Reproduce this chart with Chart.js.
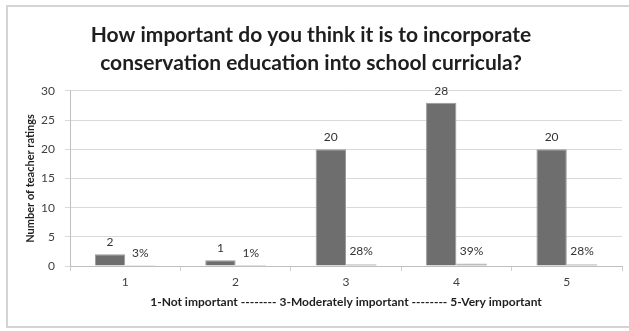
<!DOCTYPE html>
<html>
<head>
<meta charset="utf-8">
<script src="https://cdn.jsdelivr.net/npm/chart.js@4/dist/chart.umd.min.js"></script>
<style>
  html, body { margin: 0; padding: 0; background: #ffffff; }
  #wrap { position: relative; width: 629px; height: 331px; }
</style>
</head>
<body>
<div id="wrap"><canvas id="c" width="629" height="331"></canvas></div>
<script>
const categories = ['1', '2', '3', '4', '5'];
const teacherCounts = [2, 1, 20, 28, 20];
const percentValues = [0.03, 0.01, 0.28, 0.39, 0.28];
const percentLabels = ['3%', '1%', '28%', '39%', '28%'];
const yTicks = [0, 5, 10, 15, 20, 25, 30];
const titleLines = ['How important do you think it is to incorporate', 'conservation education into school curricula?'];
const yTitle = 'Number of teacher ratings';
const xTitle = '1-Not important -------- 3-Moderately important -------- 5-Very important';

const FONT = 'Lato, "Open Sans", sans-serif';

const frame = {
  id: 'frame',
  beforeDraw(chart) {
    const ctx = chart.ctx;
    ctx.save();
    ctx.fillStyle = '#ffffff';
    ctx.fillRect(0, 0, chart.width, chart.height);
    ctx.strokeStyle = '#d4d4d4';
    ctx.lineWidth = 2;
    ctx.strokeRect(7, 6, 640, 321);
    ctx.restore();
  }
};

const barLabels = {
  id: 'barLabels',
  afterDatasetsDraw(chart) {
    const ctx = chart.ctx;
    ctx.save();
    ctx.font = '12px ' + FONT;
    ctx.fillStyle = '#333333';
    ctx.textAlign = 'center';
    ctx.textBaseline = 'bottom';
    chart.getDatasetMeta(0).data.forEach((bar, i) => {
      ctx.fillText(String(teacherCounts[i]), bar.x, bar.y - 6);
    });
    chart.getDatasetMeta(1).data.forEach((bar, i) => {
      ctx.fillText(percentLabels[i], bar.x, bar.y - 7);
    });
    ctx.restore();
  }
};

new Chart(document.getElementById('c'), {
  type: 'bar',
  data: {
    labels: categories,
    datasets: [
      {
        label: 'Count',
        data: teacherCounts,
        backgroundColor: '#6e6e6e',
        borderColor: '#9a9a9a',
        borderWidth: 1,
        categoryPercentage: 0.55,
        barPercentage: 1.0
      },
      {
        label: 'Percent',
        data: percentValues,
        backgroundColor: '#bdbdbd',
        borderColor: '#bdbdbd',
        borderWidth: 0,
        categoryPercentage: 0.55,
        barPercentage: 1.0
      }
    ]
  },
  options: {
    responsive: false,
    animation: false,
    devicePixelRatio: 1,
    layout: { padding: { left: 0, right: 7, top: 0, bottom: 0 } },
    plugins: {
      legend: { display: false },
      tooltip: { enabled: false },
      title: {
        display: true,
        text: titleLines,
        color: '#1e1e1e',
        font: { family: FONT, size: 21, weight: 'bold', lineHeight: 1.333 },
        padding: { top: 21, bottom: 14 }
      }
    },
    scales: {
      x: {
        grid: { display: true, drawOnChartArea: false, color: '#cfcfcf', tickLength: 5 },
        border: { color: '#bfbfbf' },
        ticks: { color: '#404040', font: { family: FONT, size: 12 }, padding: 4 },
        title: {
          display: true,
          text: xTitle,
          color: '#1e1e1e',
          font: { family: FONT, size: 12, weight: 'bold', lineHeight: 1.2 },
          padding: { top: 0, bottom: 22 }
        },
        afterFit(scale) { scale.height = 65; }
      },
      y: {
        min: 0,
        max: 30,
        afterBuildTicks(scale) { scale.ticks = yTicks.map(v => ({ value: v })); },
        grid: { color: '#d9d9d9', tickLength: 5 },
        border: { color: '#bfbfbf' },
        ticks: { color: '#404040', font: { family: FONT, size: 12 }, padding: 10 },
        title: {
          display: true,
          text: yTitle,
          color: '#1e1e1e',
          font: { family: FONT, size: 11, weight: 'bold', lineHeight: 1.2 },
          padding: { top: 24, bottom: 0 }
        },
        afterFit(scale) { scale.width = 70; }
      }
    }
  },
  plugins: [frame, barLabels]
});
</script>
</body>
</html>
